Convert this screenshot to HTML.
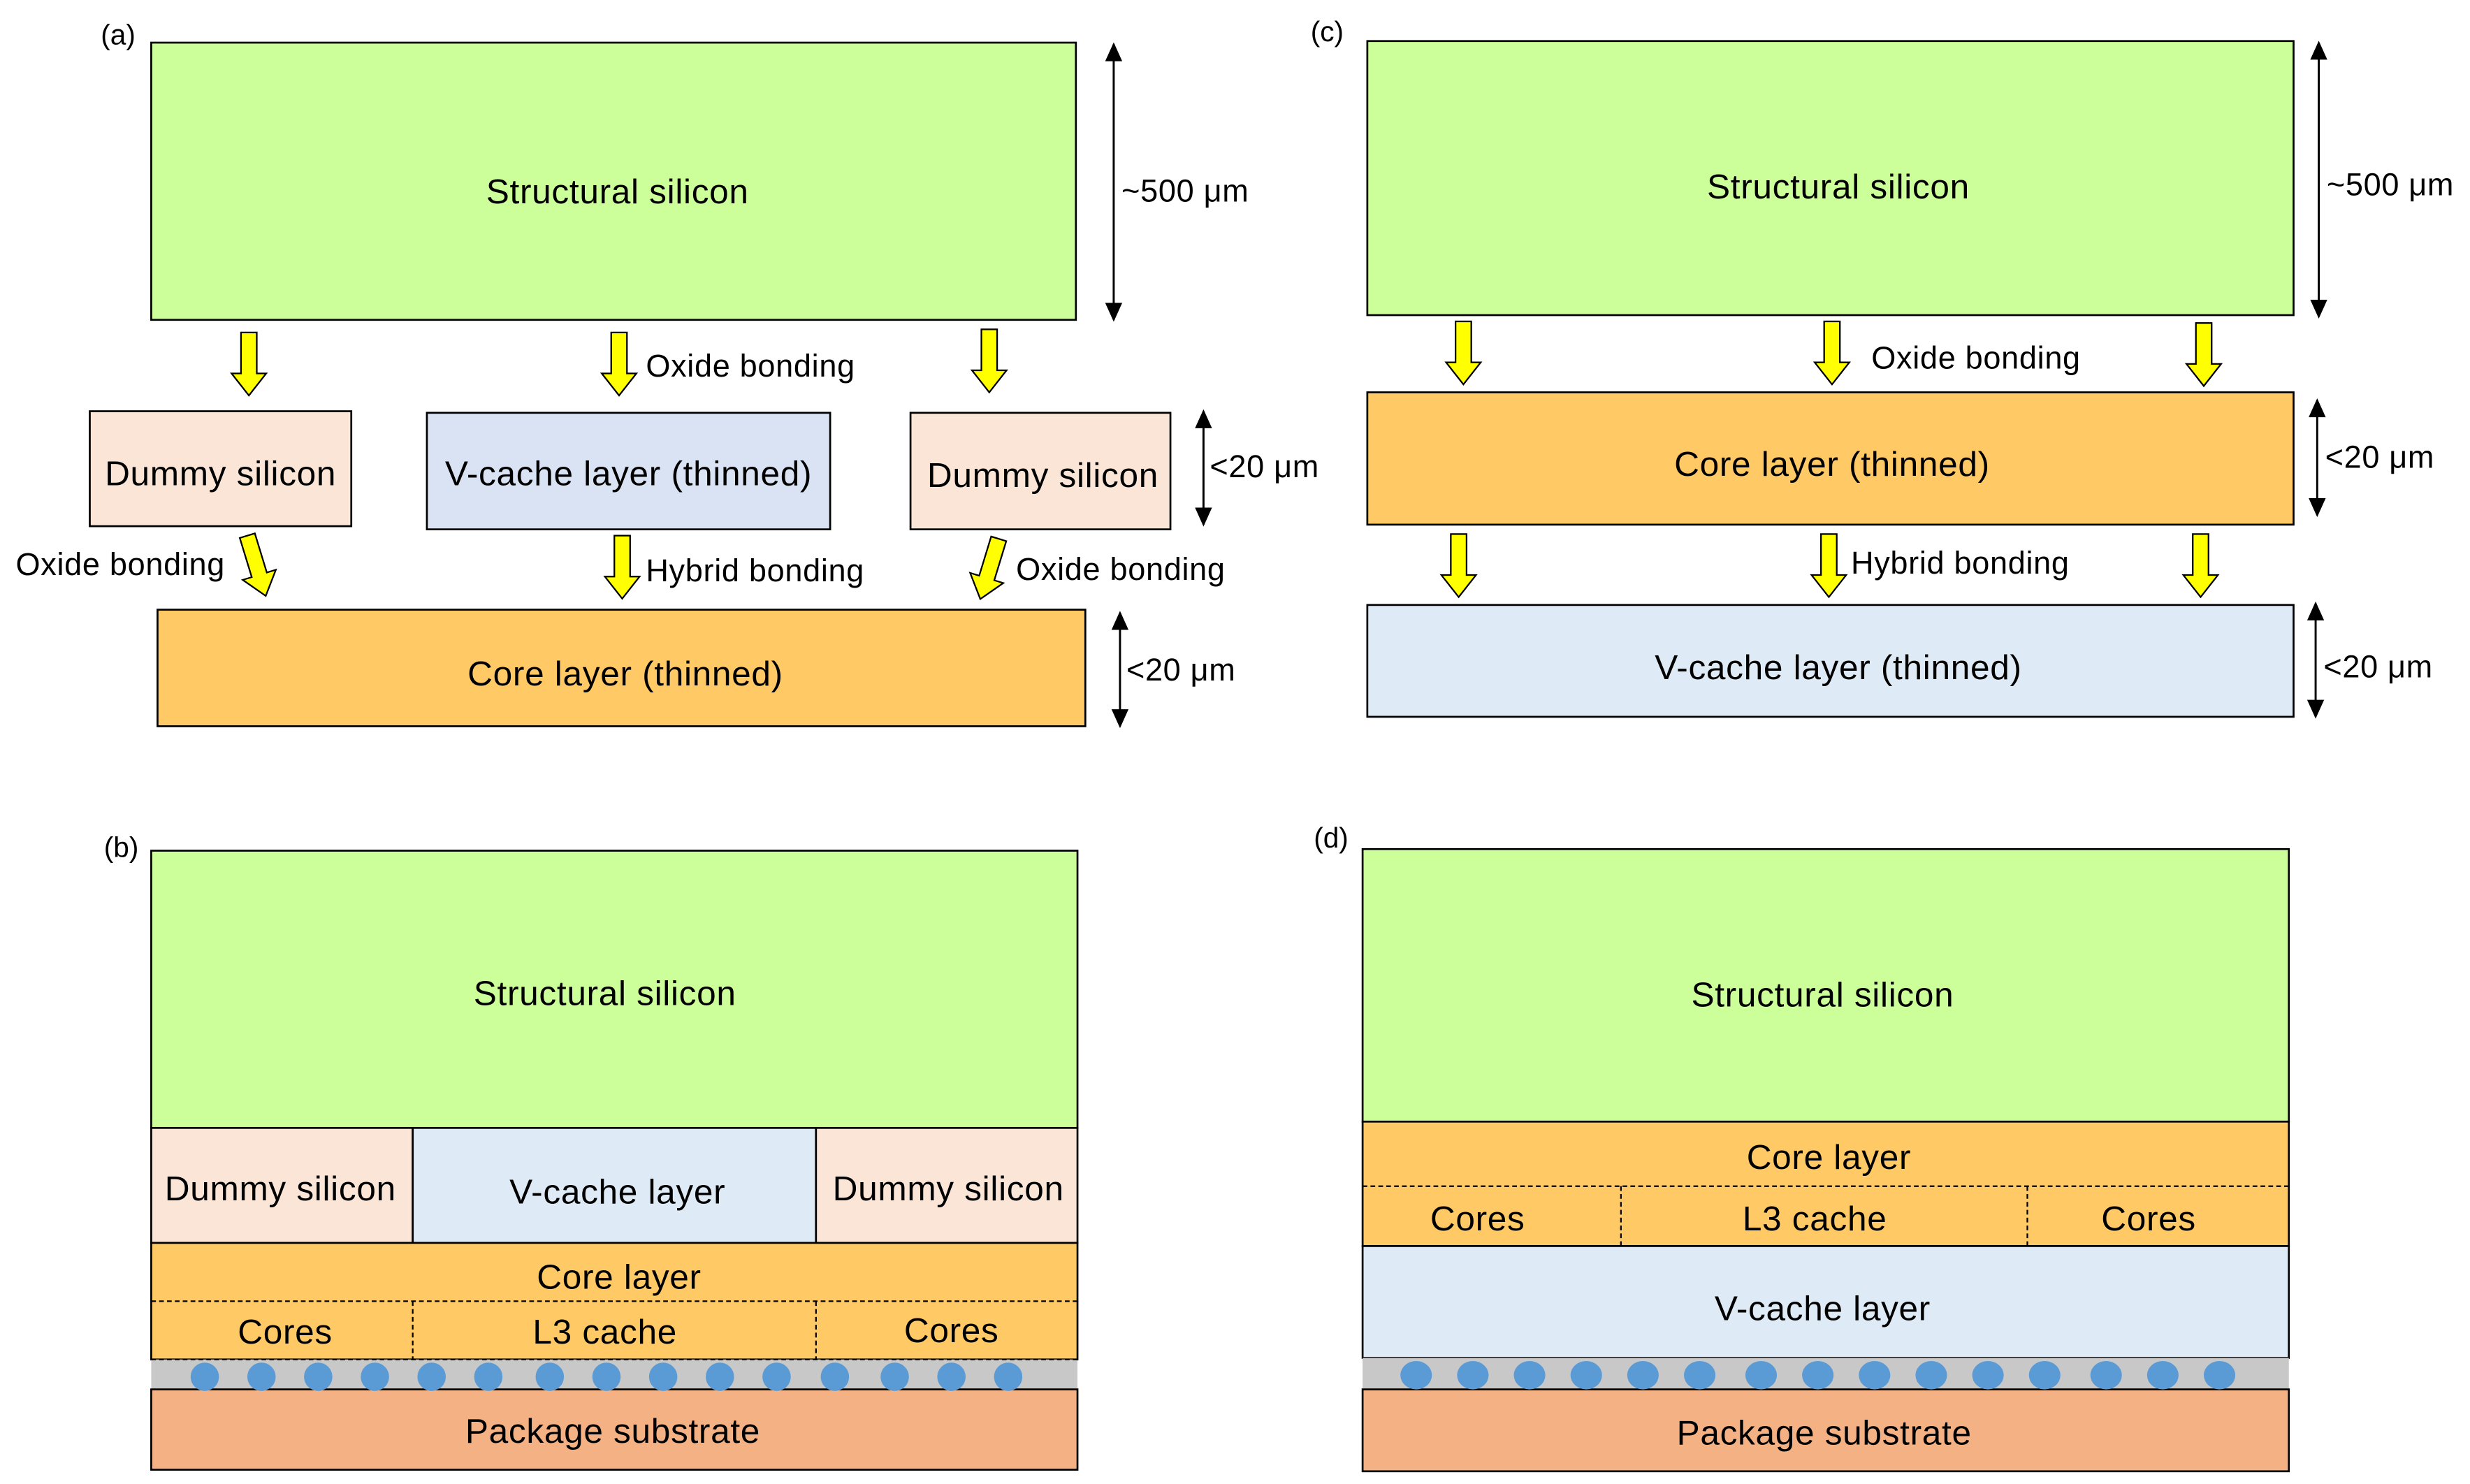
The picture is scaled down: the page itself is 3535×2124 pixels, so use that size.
<!DOCTYPE html>
<html><head><meta charset="utf-8"><style>
html,body{margin:0;padding:0;background:#fff;}
svg{display:block;}
text{font-family:"Liberation Sans",Arial,sans-serif;fill:#000;}
</style></head><body>
<svg width="3535" height="2124" viewBox="0 0 1568 942" xmlns="http://www.w3.org/2000/svg">
<defs>
<marker id="ah" viewBox="0 0 10 10" refX="9" refY="5" markerWidth="13" markerHeight="12" orient="auto-start-reverse" markerUnits="userSpaceOnUse"><path d="M0,0.5 L10,5 L0,9.5 z" fill="#000"/></marker>
<g id="ya"><polygon points="-5,0 5,0 5,26 11,26 0,40 -11,26 -5,26" fill="#FFFF00" stroke="#000" stroke-width="1"/></g>
</defs>
<g stroke="#000" stroke-width="1.2">
<rect x="96" y="27" width="587" height="176" fill="#CCFF99"/>
<rect x="57" y="261" width="166" height="73" fill="#FBE5D6"/>
<rect x="271" y="262" width="256" height="74" fill="#DAE3F3"/>
<rect x="578" y="262" width="165" height="74" fill="#FBE5D6"/>
<rect x="100" y="387" width="589" height="74" fill="#FFCA66"/>
<rect x="868" y="26" width="588" height="174" fill="#CCFF99"/>
<rect x="868" y="249" width="588" height="84" fill="#FFCA66"/>
<rect x="868" y="384" width="588" height="71" fill="#DEEAF6"/>
<rect x="96" y="540" width="588" height="176" fill="#CCFF99"/>
<rect x="96" y="716" width="166" height="73" fill="#FBE5D6"/>
<rect x="262" y="716" width="256" height="73" fill="#DEEAF6"/>
<rect x="518" y="716" width="166" height="73" fill="#FBE5D6"/>
<rect x="96" y="789" width="588" height="74" fill="#FFCA66"/>
<rect x="96" y="863" width="588" height="19" fill="#C8C8C8" stroke="none"/>
<rect x="96" y="882" width="588" height="51" fill="#F4B183"/>
<rect x="865" y="539" width="588" height="173" fill="#CCFF99"/>
<rect x="865" y="712" width="588" height="79" fill="#FFCA66"/>
<rect x="865" y="791" width="588" height="71" fill="#DEEAF6"/>
<rect x="865" y="862" width="588" height="20" fill="#C8C8C8" stroke="none"/>
<rect x="865" y="882" width="588" height="52" fill="#F4B183"/>
</g>
<g stroke="#000" stroke-width="1" stroke-dasharray="3,2" fill="none">
<line x1="96" y1="826" x2="684" y2="826"/><line x1="96" y1="863" x2="684" y2="863"/>
<line x1="262" y1="826" x2="262" y2="863"/><line x1="518" y1="826" x2="518" y2="863"/>
<line x1="865" y1="753" x2="1453" y2="753"/><line x1="865" y1="791" x2="1453" y2="791"/>
<line x1="1029" y1="753" x2="1029" y2="791"/><line x1="1287" y1="753" x2="1287" y2="791"/>
</g>
<g fill="#5B9BD5">
<ellipse cx="130" cy="874" rx="9" ry="9"/><ellipse cx="166" cy="874" rx="9" ry="9"/><ellipse cx="202" cy="874" rx="9" ry="9"/><ellipse cx="238" cy="874" rx="9" ry="9"/><ellipse cx="274" cy="874" rx="9" ry="9"/><ellipse cx="310" cy="874" rx="9" ry="9"/><ellipse cx="349" cy="874" rx="9" ry="9"/><ellipse cx="385" cy="874" rx="9" ry="9"/><ellipse cx="421" cy="874" rx="9" ry="9"/><ellipse cx="457" cy="874" rx="9" ry="9"/><ellipse cx="493" cy="874" rx="9" ry="9"/><ellipse cx="530" cy="874" rx="9" ry="9"/><ellipse cx="568" cy="874" rx="9" ry="9"/><ellipse cx="604" cy="874" rx="9" ry="9"/><ellipse cx="640" cy="874" rx="9" ry="9"/>
<ellipse cx="899" cy="873" rx="10" ry="9"/><ellipse cx="935" cy="873" rx="10" ry="9"/><ellipse cx="971" cy="873" rx="10" ry="9"/><ellipse cx="1007" cy="873" rx="10" ry="9"/><ellipse cx="1043" cy="873" rx="10" ry="9"/><ellipse cx="1079" cy="873" rx="10" ry="9"/><ellipse cx="1118" cy="873" rx="10" ry="9"/><ellipse cx="1154" cy="873" rx="10" ry="9"/><ellipse cx="1190" cy="873" rx="10" ry="9"/><ellipse cx="1226" cy="873" rx="10" ry="9"/><ellipse cx="1262" cy="873" rx="10" ry="9"/><ellipse cx="1298" cy="873" rx="10" ry="9"/><ellipse cx="1337" cy="873" rx="10" ry="9"/><ellipse cx="1373" cy="873" rx="10" ry="9"/><ellipse cx="1409" cy="873" rx="10" ry="9"/>
</g>
<g stroke="#000" stroke-width="1.3" marker-start="url(#ah)" marker-end="url(#ah)">
<line x1="707" y1="28" x2="707" y2="203"/>
<line x1="764" y1="261" x2="764" y2="333"/>
<line x1="711" y1="389" x2="711" y2="461"/>
<line x1="1472" y1="27" x2="1472" y2="201"/>
<line x1="1471" y1="254" x2="1471" y2="327"/>
<line x1="1470" y1="383" x2="1470" y2="455"/>
</g>
<use href="#ya" x="158" y="211"/><use href="#ya" x="393" y="211"/><use href="#ya" x="628" y="209"/>
<use href="#ya" transform="translate(157,340) rotate(-17)"/>
<use href="#ya" x="395" y="340"/>
<use href="#ya" transform="translate(634,342) rotate(17)"/>
<use href="#ya" x="929" y="204"/><use href="#ya" x="1163" y="204"/><use href="#ya" x="1399" y="205"/>
<use href="#ya" x="926" y="339"/><use href="#ya" x="1161" y="339"/><use href="#ya" x="1397" y="339"/>
<g font-size="22" text-anchor="middle" letter-spacing="0.3">
<text x="392" y="129">Structural silicon</text>
<text x="140" y="308">Dummy  silicon</text>
<text x="399" y="308">V-cache layer (thinned)</text>
<text x="662" y="309">Dummy  silicon</text>
<text x="397" y="435">Core layer (thinned)</text>
<text x="1167" y="126">Structural silicon</text>
<text x="1163" y="302">Core layer (thinned)</text>
<text x="1167" y="431">V-cache layer (thinned)</text>
<text x="384" y="638">Structural silicon</text>
<text x="178" y="762">Dummy  silicon</text>
<text x="392" y="764">V-cache layer</text>
<text x="602" y="762">Dummy  silicon</text>
<text x="393" y="818">Core layer</text>
<text x="181" y="853">Cores</text>
<text x="384" y="853">L3 cache</text>
<text x="604" y="852">Cores</text>
<text x="389" y="916">Package substrate</text>
<text x="1157" y="639">Structural silicon</text>
<text x="1161" y="742">Core layer</text>
<text x="938" y="781">Cores</text>
<text x="1152" y="781">L3 cache</text>
<text x="1364" y="781">Cores</text>
<text x="1157" y="838">V-cache layer</text>
<text x="1158" y="917">Package substrate</text>
</g>
<g font-size="20" letter-spacing="0.3">
<text x="410" y="239">Oxide bonding</text>
<text x="10" y="365">Oxide bonding</text>
<text x="410" y="369">Hybrid bonding</text>
<text x="645" y="368">Oxide bonding</text>
<text x="1188" y="234">Oxide bonding</text>
<text x="1175" y="364">Hybrid bonding</text>
<text x="712" y="128">~500 μm</text>
<text x="768" y="303">&lt;20 μm</text>
<text x="715" y="432">&lt;20 μm</text>
<text x="1477" y="124">~500 μm</text>
<text x="1476" y="297">&lt;20 μm</text>
<text x="1475" y="430">&lt;20 μm</text>
</g>
<g font-size="18">
<text x="64" y="28">(a)</text>
<text x="832" y="26">(c)</text>
<text x="66" y="544">(b)</text>
<text x="834" y="538">(d)</text>
</g>
</svg>
</body></html>
